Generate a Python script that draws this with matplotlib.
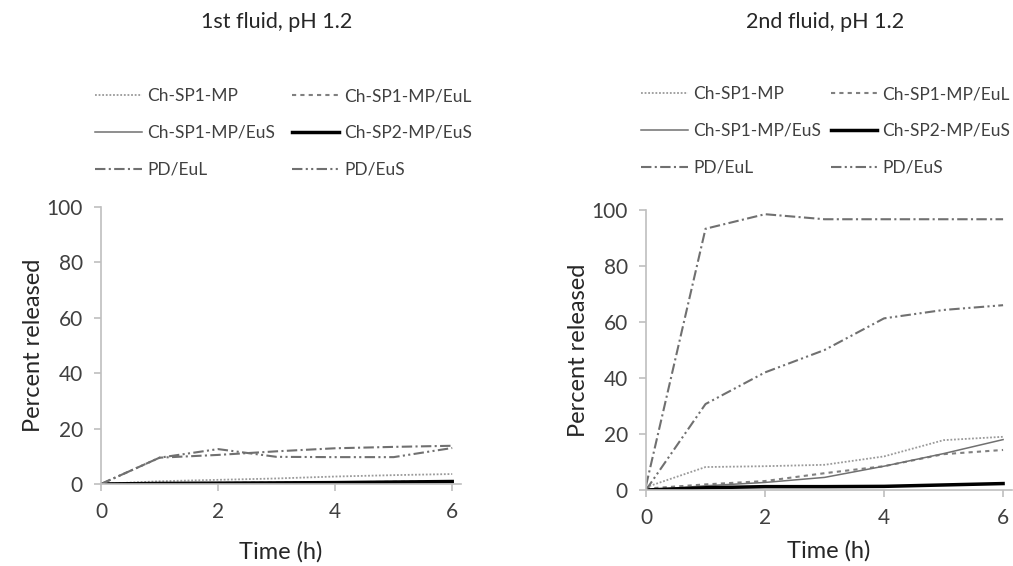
import matplotlib
matplotlib.use("Agg")
import matplotlib.pyplot as plt
import numpy as np

plt.rcParams['font.family'] = ['Lato', 'DejaVu Sans']

time_h = [0, 1, 2, 3, 4, 5, 6]
labels = ["Ch-SP1-MP", "Ch-SP1-MP/EuL", "Ch-SP1-MP/EuS",
          "Ch-SP2-MP/EuS", "PD/EuL", "PD/EuS"]

# 1st fluid, pH 1.2
f1_sp1 = [0, 1.0, 1.5, 2.0, 2.7, 3.2, 3.6]
f1_sp1_eul = [0, 0.3, 0.4, 0.5, 0.6, 0.8, 1.0]
f1_sp1_eus = [0, 0.1, 0.2, 0.2, 0.3, 0.4, 0.5]
f1_sp2_eus = [0, 0.2, 0.3, 0.4, 0.5, 0.7, 0.9]
f1_pd_eul = [0, 9.5, 10.5, 11.8, 12.9, 13.4, 13.8]
f1_pd_eus = [0, 9.5, 12.6, 9.8, 9.7, 9.7, 13.0]

# 2nd fluid, pH 1.2
f2_sp1 = [1.0, 8.2, 8.5, 9.0, 12.0, 17.8, 19.0]
f2_sp1_eul = [0.5, 2.0, 3.2, 6.0, 8.5, 12.8, 14.3]
f2_sp1_eus = [0, 1.5, 2.7, 4.5, 8.5, 13.0, 18.0]
f2_sp2_eus = [0, 0.8, 1.2, 1.2, 1.3, 1.8, 2.3]
f2_pd_eul = [1.5, 93.3, 98.5, 96.7, 96.7, 96.7, 96.7]
f2_pd_eus = [0, 30.7, 42.0, 50.0, 61.3, 64.3, 66.0]

fluid1 = [f1_sp1, f1_sp1_eul, f1_sp1_eus, f1_sp2_eus, f1_pd_eul, f1_pd_eus]
fluid2 = [f2_sp1, f2_sp1_eul, f2_sp1_eus, f2_sp2_eus, f2_pd_eul, f2_pd_eus]

styles = [
    dict(color="#9a9a9a", lw=1.3, ls=(0, (1, 1))),
    dict(color="#808080", lw=1.5, ls=(0, (2, 2))),
    dict(color="#707070", lw=1.1, ls="-"),
    dict(color="#000000", lw=2.5, ls="-"),
    dict(color="#707070", lw=1.5, ls=(0, (5, 1.6, 1, 1.6))),
    dict(color="#707070", lw=1.5, ls=(0, (5, 1.6, 1, 1.6, 1, 1.6))),
]

text_c = "#404040"
W, H = 1013, 566
fig = plt.figure(figsize=(10.13, 5.66), dpi=100)
ax1 = fig.add_axes([101 / W, 1 - 484 / H, 360 / W, 277 / H])
ax2 = fig.add_axes([646 / W, 1 - 490 / H, 366 / W, 280 / H])

panels = [(ax1, fluid1, "1st fluid, pH 1.2", (95, 88), 1.0, 14),
          (ax2, fluid2, "2nd fluid, pH 1.2", (641, 86), 0.55, 9)]

for ax, data, title, leg_xy, colsp, xpad in panels:
    handles = []
    for y, lab, st in zip(data, labels, styles):
        h, = ax.plot(time_h, y, label=lab, **st)
        handles.append(h)
    ax.set_xlim(0, 6.15)
    ax.set_ylim(0, 100)
    ax.set_xticks([0, 2, 4, 6])
    ax.set_yticks([0, 20, 40, 60, 80, 100])
    for s in ["top", "right"]:
        ax.spines[s].set_visible(False)
    for s in ["left", "bottom"]:
        ax.spines[s].set_color("#bfbfbf")
        ax.spines[s].set_linewidth(1.2)
    ax.tick_params(colors="#bfbfbf", labelcolor=text_c, labelsize=15,
                   length=5, width=1.2, pad=8)
    ax.set_xlabel("Time (h)", fontsize=17, color="#262626", labelpad=xpad)
    ax.set_ylabel("Percent released", fontsize=17, color="#262626", labelpad=2)
    # row-wise order for a 2-column legend
    order = [0, 2, 4, 1, 3, 5]
    ax.legend([handles[i] for i in order], [labels[i] for i in order],
              ncol=2, loc="upper left",
              bbox_to_anchor=(leg_xy[0] / W, 1 - leg_xy[1] / H),
              bbox_transform=fig.transFigure,
              frameon=False, fontsize=12.5, labelcolor=text_c,
              handlelength=2.7, handletextpad=0.3, columnspacing=colsp,
              labelspacing=1.2, borderaxespad=0, borderpad=0)
    bb = ax.get_position()
    fig.text((bb.x0 + bb.x1) / 2 - 0.004, 1 - 22 / H, title,
             ha="center", va="center", fontsize=15.5, color="#262626")

fig.savefig("out.png", dpi=100)
